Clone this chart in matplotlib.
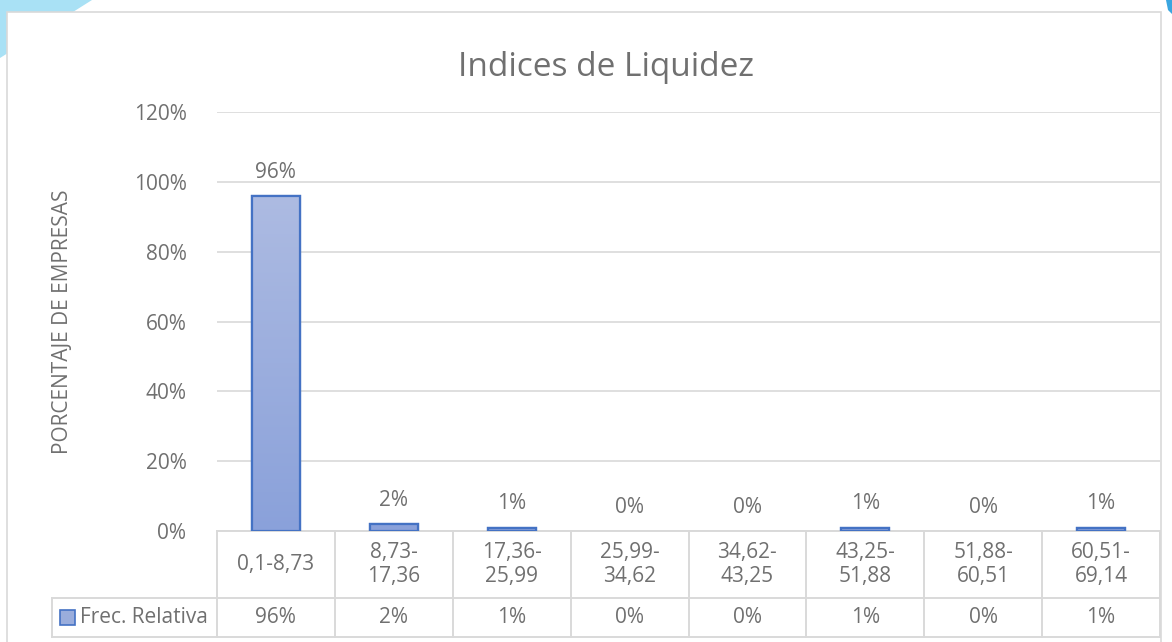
import matplotlib
matplotlib.use("Agg")
import matplotlib.pyplot as plt
import numpy as np
from matplotlib.patches import Polygon, Rectangle
from matplotlib.lines import Line2D
from matplotlib.ticker import PercentFormatter
from matplotlib.colors import LinearSegmentedColormap

categories = ["0,1-8,73", "8,73-\n17,36", "17,36-\n25,99", "25,99-\n34,62",
              "34,62-\n43,25", "43,25-\n51,88", "51,88-\n60,51", "60,51-\n69,14"]
values = [96, 2, 1, 0, 0, 1, 0, 1]
series_name = "Frec. Relativa"
yticks = [0, 20, 40, 60, 80, 100, 120]
title = "Indices de Liquidez"
ylabel = "PORCENTAJE DE EMPRESAS"

FONT = ["Open Sans", "DejaVu Sans"]
plt.rcParams["font.family"] = FONT
TXT = "#707070"
GRID = "#d9d9d9"
BAR_FC = "#9aaddc"
BAR_EC = "#4472c4"
FS = 15

W, H = 1172, 642
fig = plt.figure(figsize=(W / 100, H / 100), dpi=100)

def fx(px):
    return px / W

def fy(py):
    return 1 - py / H

# decorative background shapes
fig.patches.append(Polygon([[fx(0), fy(0)], [fx(92), fy(0)], [fx(0), fy(58)]],
                           closed=True, transform=fig.transFigure,
                           facecolor="#a9e1f5", edgecolor="none", zorder=0))
fig.patches.append(Polygon([[fx(1166), fy(0)], [fx(1172), fy(0)], [fx(1172), fy(14)], [fx(1168), fy(10)]],
                           closed=True, transform=fig.transFigure,
                           facecolor="#3aa6e0", edgecolor="none", zorder=0))
# chart frame
fig.patches.append(Rectangle((fx(7), fy(700)), fx(1161 - 7), fy(12) - fy(700),
                             transform=fig.transFigure, facecolor="white",
                             edgecolor=GRID, linewidth=1.2, zorder=1))

left, right, top0, bottom0 = 217, 1160, 112, 531
ax = fig.add_axes([fx(left), fy(bottom0), fx(right - left), fy(top0) - fy(bottom0)])
ax.set_zorder(2)
ax.patch.set_alpha(0)

n = len(categories)
x = list(range(n))
lws = [1.6 if v > 0 else 0 for v in values]
bars = ax.bar(x, values, width=0.41, color=BAR_FC, edgecolor=BAR_EC, linewidth=lws, zorder=3)

# vertical gradient fill inside the bars (lighter on top like Excel)
cmap = LinearSegmentedColormap.from_list("g", ["#8aa1da", "#adbbe2"])
grad = np.linspace(0, 1, 256).reshape(-1, 1)
vmax = max(values)
for b, v in zip(bars, values):
    if v <= 0:
        continue
    x0, w = b.get_x(), b.get_width()
    im = ax.imshow(grad, cmap=cmap, origin="lower", aspect="auto",
                   extent=[x0, x0 + w, 0, vmax], zorder=3.1, interpolation="bilinear")
    im.set_clip_path(b)
    ax.add_patch(Rectangle((x0, 0), w, b.get_height(), facecolor="none", edgecolor=BAR_EC,
                           linewidth=1.6, zorder=3.2))
ax.set_xlim(-0.5, n - 0.5)
ax.set_ylim(0, yticks[-1])
ax.set_yticks(yticks)
ax.yaxis.set_major_formatter(PercentFormatter(decimals=0))
ax.tick_params(axis="y", length=0, pad=22, labelsize=FS, labelcolor=TXT)
ax.tick_params(axis="x", length=0, labelbottom=False)
ax.grid(axis="y", color=GRID, linewidth=1.2, zorder=0)
for s in ax.spines.values():
    s.set_visible(False)

for xi, v in zip(x, values):
    ax.annotate(f"{v}%", (xi, v), xytext=(0, 17), textcoords="offset points",
                ha="center", va="center", fontsize=FS, color=TXT)

# data table
row1 = -67 / 419
row2 = -106 / 419
legx = (52 - left) / (right - left)
kw = dict(transform=ax.transAxes, color=GRID, linewidth=1.4, clip_on=False)
ax.add_line(Line2D([0, 1], [0, 0], **kw))
ax.add_line(Line2D([legx, 1], [row1, row1], **kw))
ax.add_line(Line2D([legx, 1], [row2, row2], **kw))
ax.add_line(Line2D([legx, legx], [row1, row2], **kw))
for i in range(n + 1):
    xx = i / n
    ax.add_line(Line2D([xx, xx], [0, row2], **kw))
for i, (c, v) in enumerate(zip(categories, values)):
    xc = (i + 0.5) / n
    ax.text(xc, row1 / 2, c, transform=ax.transAxes, ha="center", va="center",
            fontsize=FS, color=TXT, linespacing=1.2)
    ax.text(xc, (row1 + row2) / 2, f"{v}%", transform=ax.transAxes, ha="center",
            va="center", fontsize=FS, color=TXT)
# legend key + name
kx = (60 - left) / (right - left)
kw_ = 15 / (right - left)
kh = 15 / 419
ax.add_patch(Rectangle((kx, (row1 + row2) / 2 - kh / 2), kw_, kh, transform=ax.transAxes,
                       facecolor=BAR_FC, edgecolor=BAR_EC, linewidth=1.2, clip_on=False))
ax.text((80 - left) / (right - left), (row1 + row2) / 2, series_name, transform=ax.transAxes,
        ha="left", va="center", fontsize=FS, color=TXT)

fig.text(fx(606), fy(68), title, ha="center", va="center", fontsize=24, color=TXT)
fig.text(fx(63), fy(322), ylabel, ha="center", va="center", rotation=90, fontsize=15, color=TXT)

fig.savefig("out.png", dpi=100)
